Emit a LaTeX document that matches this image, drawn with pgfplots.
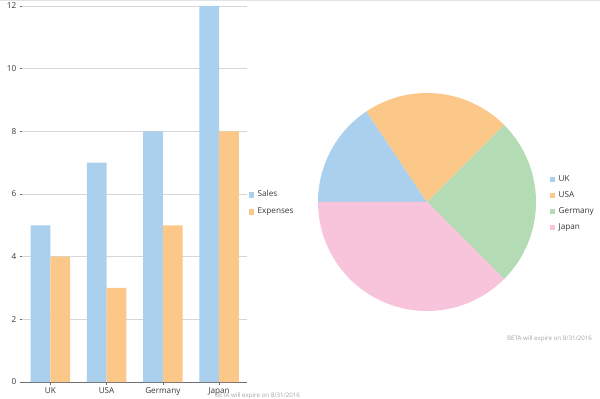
\documentclass[border=0pt]{standalone}
\usepackage{pgfplots}
\usepackage{pgfplotstable}
\pgfplotsset{compat=1.18}
\usepackage{fontspec}
\setmainfont{Open Sans}
\definecolor{cBlue}{RGB}{171,208,237}
\definecolor{cOrange}{RGB}{252,200,137}
\definecolor{cGreen}{RGB}{179,220,180}
\definecolor{cPink}{RGB}{248,196,220}
\definecolor{cgrid}{RGB}{215,215,215}
\definecolor{caxis}{RGB}{110,110,110}
\definecolor{ctext}{RGB}{55,55,55}
\definecolor{cwm}{RGB}{165,165,165}

\pgfplotstableread{
idx sales expenses
0 5 4
1 7 3
2 8 5
3 12 8
}\bardata

\pgfplotstableread{
country value color
UK 5 cBlue
USA 7 cOrange
Germany 8 cGreen
Japan 12 cPink
}\piedata

\newcommand\lblfont{\fontsize{8.2}{9.8}\selectfont}

\begin{document}%
\begin{tikzpicture}[font=\lblfont]
\pgfplotstablegetrowsof{\piedata}
\pgfmathtruncatemacro{\lastrow}{\pgfplotsretval-1}
\def\pietotal{0}
\pgfplotsforeachungrouped \i in {0,...,\lastrow}{%
  \pgfplotstablegetelem{\i}{value}\of\piedata
  \pgfmathsetmacro{\pietotal}{\pietotal+\pgfplotsretval}%
}
\fill[white] (0,0) rectangle (600bp,399bp);
\draw[cgrid!70, line width=1bp] (0,398.5bp) -- (600bp,398.5bp);

% bar chart
\begin{axis}[
  at={(22.2bp,17bp)}, anchor=south west,
  scale only axis, width=225bp, height=376bp,
  xmin=-0.5, xmax=3.5, ymin=0, ymax=12,
  xtick={0,1,2,3}, xticklabels={UK,USA,Germany,Japan},
  ytick={0,2,...,12},
  ymajorgrids, major grid style={cgrid, line width=0.8bp},
  axis lines*=left,
  y axis line style={draw=none},
  x axis line style={caxis, line width=0.8bp},
  tick align=outside, major tick length=2.5bp,
  tick style={caxis, line width=0.6bp},
  ticklabel style={text=ctext, font=\lblfont},
  /pgf/number format/assume math mode=true,
  clip=false,
  legend style={at={(1.0056,0.475)}, anchor=west, draw=none, fill=none,
    inner sep=0pt, font=\lblfont, text=ctext,
    row sep=7bp, nodes={inner sep=1bp, text height=6bp, text depth=2bp}},
  legend cell align=left,
  legend image code/.code={\fill[#1] (0bp,-2.8bp) rectangle (5.6bp,2.8bp); \path (0bp,0bp) (8bp,0bp);},
]
\addplot[ybar, bar width=0.35, bar shift=-0.175, fill=cBlue, draw=none] table[x=idx, y=sales] {\bardata};
\addlegendentry{Sales}
\addplot[ybar, bar width=0.35, bar shift=0.175, fill=cOrange, draw=none] table[x=idx, y=expenses] {\bardata};
\addlegendentry{Expenses}
\end{axis}

% pie chart
\begin{axis}[
  at={(318bp,88bp)}, anchor=south west,
  scale only axis, width=218bp, height=218bp,
  xmin=-1, xmax=1, ymin=-1, ymax=1,
  hide axis, clip=false,
  legend style={at={(1.062,0.493)}, anchor=west, draw=none, fill=none,
    inner sep=0pt, font=\lblfont, text=ctext,
    row sep=6bp, nodes={inner sep=1bp, text height=6bp, text depth=2bp}},
  legend cell align=left,
  legend image code/.code={\fill[#1] (0bp,-2.8bp) rectangle (5.6bp,2.8bp); \path (0bp,0bp) (8bp,0bp);},
]
\def\cum{0}
\pgfplotsforeachungrouped \i in {0,...,\lastrow}{%
  \pgfplotstablegetelem{\i}{value}\of\piedata \let\val\pgfplotsretval
  \pgfplotstablegetelem{\i}{color}\of\piedata \let\col\pgfplotsretval
  \pgfmathsetmacro{\sa}{180-360*\cum/\pietotal}%
  \pgfmathsetmacro{\ea}{180-360*(\cum+\val)/\pietotal}%
  \pgfmathsetmacro{\cum}{\cum+\val}%
  \edef\temp{\noexpand\fill[\col] (axis cs:0,0) -- ([shift={(\sa:109bp)}]axis cs:0,0) arc[start angle=\sa, end angle=\ea, radius=109bp] -- cycle;}%
  \temp
}
\addlegendimage{fill=cBlue, draw=none}\addlegendentry{UK}
\addlegendimage{fill=cOrange, draw=none}\addlegendentry{USA}
\addlegendimage{fill=cGreen, draw=none}\addlegendentry{Germany}
\addlegendimage{fill=cPink, draw=none}\addlegendentry{Japan}
\end{axis}

\node[anchor=west, text=cwm, font=\fontsize{6.2}{7}\selectfont, inner sep=0pt] at (215bp,3.5bp) {BETA will expire on 8/31/2016};
\node[anchor=west, text=cwm, font=\fontsize{6.2}{7}\selectfont, inner sep=0pt] at (507bp,60bp) {BETA will expire on 8/31/2016};
\pgfresetboundingbox
\useasboundingbox (0,0) rectangle (600bp,399bp);
\end{tikzpicture}%
\end{document}
